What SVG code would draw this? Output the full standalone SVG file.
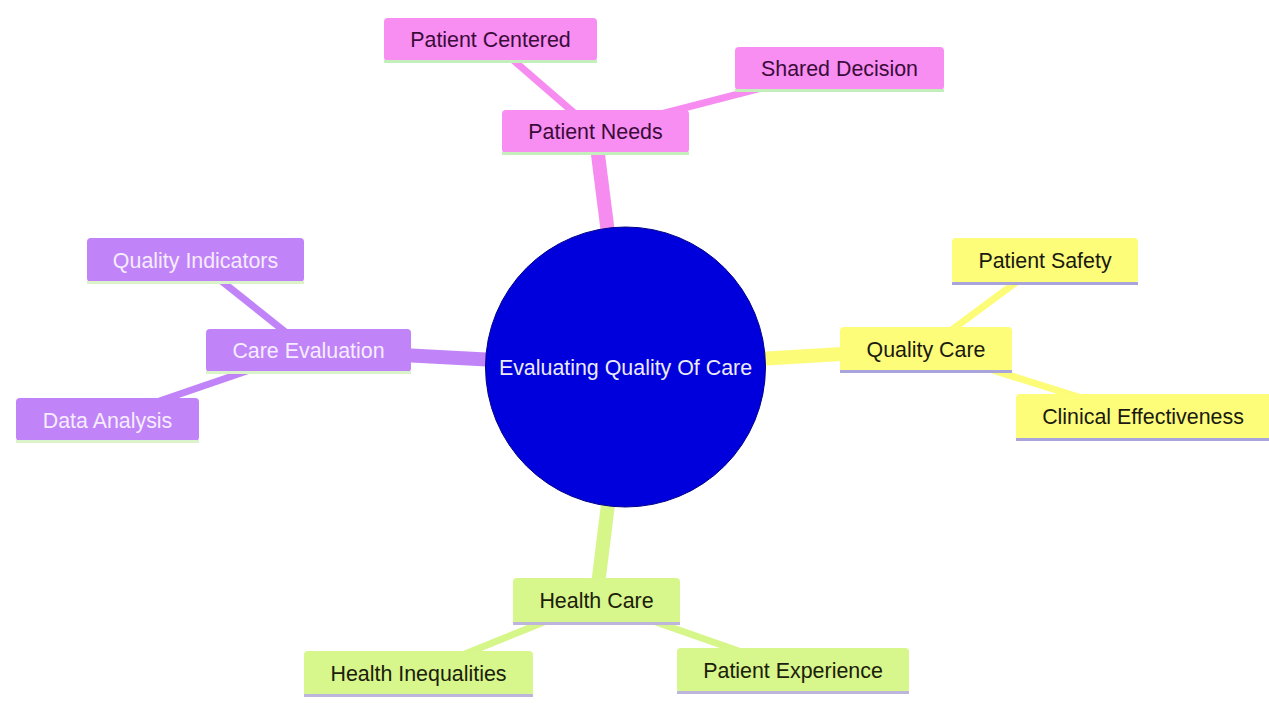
<svg xmlns="http://www.w3.org/2000/svg" width="1269" height="704" viewBox="0 0 1269 704">
<style>
  text { font-family: "Liberation Sans", Arial, sans-serif; font-size: 21.4px; text-anchor: middle; }
  .e1 { stroke-width: 14; fill: none; stroke-linecap: butt; }
  .e2 { stroke-width: 7; fill: none; stroke-linecap: butt; }
  .pk { stroke: #f78cf0; }
  .pu { stroke: #c084f8; }
  .ye { stroke: #fcfc78; }
  .gr { stroke: #d6f68a; }
  .npk rect.b { fill: #f88df2; }
  .npk rect.l { fill: #c4efbc; }
  .npk text { fill: #3a0c3a; }
  .npu rect.b { fill: #c084f8; }
  .npu rect.l { fill: #daf3c8; }
  .npu text { fill: #f6ecff; }
  .nye rect.b { fill: #fdfd7a; }
  .nye rect.l { fill: #a9a5dc; }
  .nye text { fill: #1a1a10; }
  .ngr rect.b { fill: #d7f68b; }
  .ngr rect.l { fill: #bdb5dc; }
  .ngr text { fill: #1a200a; }
</style>
<rect width="1269" height="704" fill="#ffffff"/>
<g id="connectors">
  <line class="e1 pk" x1="625" y1="367" x2="595" y2="131"/>
  <line class="e2 pk" x1="595" y1="131" x2="490" y2="40"/>
  <line class="e2 pk" x1="595" y1="131" x2="839" y2="68"/>
  <line class="e1 pu" x1="625" y1="367" x2="308" y2="350"/>
  <line class="e2 pu" x1="308" y1="350" x2="195" y2="260"/>
  <line class="e2 pu" x1="308" y1="350" x2="107" y2="419"/>
  <line class="e1 ye" x1="625" y1="367" x2="926" y2="349"/>
  <line class="e2 ye" x1="926" y1="349" x2="1045" y2="261"/>
  <line class="e2 ye" x1="926" y1="349" x2="1142" y2="417"/>
  <line class="e1 gr" x1="625" y1="367" x2="596" y2="601"/>
  <line class="e2 gr" x1="596" y1="601" x2="418" y2="673"/>
  <line class="e2 gr" x1="596" y1="601" x2="793" y2="670"/>
</g>
<g id="root">
  <circle cx="625.5" cy="367" r="140" fill="#0000dc" stroke="#00008a" stroke-width="1"/>
  <text x="625.5" y="374.5" fill="#eceaf8">Evaluating Quality Of Care</text>
</g>
<g id="patient-needs" class="npk">
  <rect class="b" x="502" y="110" width="187" height="43" rx="4"/>
  <rect class="l" x="502" y="152" width="187" height="3"/>
  <text x="595.5" y="139">Patient Needs</text>
</g>
<g id="patient-centered" class="npk">
  <rect class="b" x="384" y="18" width="213" height="43" rx="4"/>
  <rect class="l" x="384" y="60" width="213" height="3"/>
  <text x="490.5" y="47">Patient Centered</text>
</g>
<g id="shared-decision" class="npk">
  <rect class="b" x="735" y="47" width="209" height="43" rx="4"/>
  <rect class="l" x="735" y="89" width="209" height="3"/>
  <text x="839.5" y="76">Shared Decision</text>
</g>
<g id="care-evaluation" class="npu">
  <rect class="b" x="206" y="329" width="205" height="43" rx="4"/>
  <rect class="l" x="206" y="371" width="205" height="3"/>
  <text x="308.5" y="358">Care Evaluation</text>
</g>
<g id="quality-indicators" class="npu">
  <rect class="b" x="87" y="238" width="217" height="44" rx="4"/>
  <rect class="l" x="87" y="281" width="217" height="3"/>
  <text x="195.5" y="268">Quality Indicators</text>
</g>
<g id="data-analysis" class="npu">
  <rect class="b" x="16" y="398" width="183" height="43" rx="4"/>
  <rect class="l" x="16" y="440" width="183" height="3"/>
  <text x="107.5" y="428">Data Analysis</text>
</g>
<g id="quality-care" class="nye">
  <rect class="b" x="840" y="327" width="172" height="45" rx="4"/>
  <rect class="l" x="840" y="370" width="172" height="3"/>
  <text x="926" y="357">Quality Care</text>
</g>
<g id="patient-safety" class="nye">
  <rect class="b" x="952" y="238" width="186" height="45" rx="4"/>
  <rect class="l" x="952" y="282" width="186" height="3"/>
  <text x="1045" y="268">Patient Safety</text>
</g>
<g id="clinical-effectiveness" class="nye">
  <rect class="b" x="1016" y="394" width="256" height="46" rx="4"/>
  <rect class="l" x="1016" y="438" width="256" height="3"/>
  <text x="1143" y="424">Clinical Effectiveness</text>
</g>
<g id="health-care" class="ngr">
  <rect class="b" x="513" y="578" width="167" height="46" rx="4"/>
  <rect class="l" x="513" y="622" width="167" height="3"/>
  <text x="596.5" y="608">Health Care</text>
</g>
<g id="health-inequalities" class="ngr">
  <rect class="b" x="304" y="651" width="229" height="45" rx="4"/>
  <rect class="l" x="304" y="694" width="229" height="3"/>
  <text x="418.5" y="681">Health Inequalities</text>
</g>
<g id="patient-experience" class="ngr">
  <rect class="b" x="677" y="648" width="232" height="45" rx="4"/>
  <rect class="l" x="677" y="691" width="232" height="3"/>
  <text x="793" y="678">Patient Experience</text>
</g>
</svg>
